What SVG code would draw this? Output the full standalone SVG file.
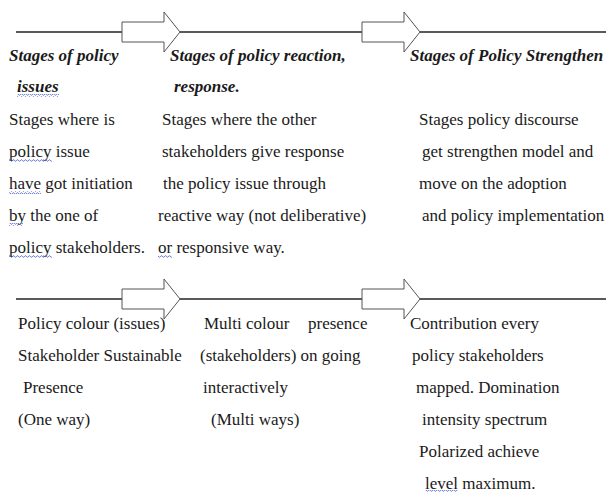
<svg xmlns="http://www.w3.org/2000/svg" width="606" height="492" viewBox="0 0 606 492">
<style>
.t{font-size:17px;fill:#1a1a1a}
.h{font-weight:bold;font-style:italic}
.ln{stroke:#222;stroke-width:1.3;fill:none}
.ar{stroke:#555;stroke-width:1;fill:#fff}
.wv{fill:url(#wavy)}
</style>
<defs>
<pattern id="wavy" width="4" height="3" patternUnits="userSpaceOnUse">
<path d="M0 2.2 L1 0.8 L2 0.8 L3 2.2 L4 2.2" fill="none" stroke="#5b6fd6" stroke-width="0.8"/>
</pattern>
<path id="arrow" d="M0 -10 H42 V-20 L58 0 L42 20 V10 H0 Z"/>
</defs>
<g id="connectors">
<line class="ln" x1="16" y1="32" x2="606" y2="32"/>
<line class="ln" x1="16" y1="299" x2="606" y2="299"/>
<use href="#arrow" class="ar" x="122" y="32"/>
<use href="#arrow" class="ar" x="362" y="32"/>
<use href="#arrow" class="ar" x="122" y="299"/>
<use href="#arrow" class="ar" x="362" y="299"/>
</g>
<g class="t" font-family="'Liberation Serif', 'DejaVu Serif', 'Times New Roman', serif">
<g id="stage-issues">
<text class="h" x="9" y="61">Stages of policy</text>
<text class="h" x="17" y="92">issues</text>
<rect class="wv" x="17" y="94" width="42" height="3"/>
<text x="9" y="125">Stages where is</text>
<text x="9" y="157">policy issue</text>
<rect class="wv" x="9" y="159" width="43" height="3"/>
<text x="9" y="189">have got initiation</text>
<rect class="wv" x="9" y="191" width="32" height="3"/>
<text x="9" y="221">by the one of</text>
<rect class="wv" x="9" y="223" width="14" height="3"/>
<text x="9" y="253">policy stakeholders.</text>
<rect class="wv" x="9" y="255" width="43" height="3"/>
</g>
<g id="stage-reaction">
<text class="h" x="170" y="61">Stages of policy reaction,</text>
<text class="h" x="174" y="92">response.</text>
<text x="162" y="125">Stages where the other</text>
<text x="162" y="157">stakeholders give response</text>
<text x="163" y="189">the policy issue through</text>
<text x="158" y="221">reactive way (not deliberative)</text>
<text x="158" y="253">or responsive way.</text>
<rect class="wv" x="158" y="255" width="14" height="3"/>
</g>
<g id="stage-strengthen">
<text class="h" x="410" y="61">Stages of Policy Strengthen</text>
<text x="419" y="125">Stages policy discourse</text>
<text x="422" y="157">get strengthen model and</text>
<text x="419" y="189">move on the adoption</text>
<text x="422" y="221">and policy implementation</text>
</g>
<g id="presence-one">
<text x="18" y="329">Policy colour (issues)</text>
<text x="18" y="361">Stakeholder Sustainable</text>
<text x="23" y="393">Presence</text>
<text x="18" y="425">(One way)</text>
</g>
<g id="presence-multi">
<text x="204" y="329">Multi colour</text>
<text x="308" y="329">presence</text>
<text x="200" y="361">(stakeholders) on going</text>
<text x="203" y="393">interactively</text>
<text x="211" y="425">(Multi ways)</text>
</g>
<g id="contribution">
<text x="410" y="329">Contribution every</text>
<text x="412" y="361">policy stakeholders</text>
<text x="416" y="393">mapped. Domination</text>
<text x="422" y="425">intensity spectrum</text>
<text x="419" y="457">Polarized achieve</text>
<text x="425" y="489">level maximum.</text>
<rect class="wv" x="425" y="490" width="33" height="2"/>
</g>
</g>
</svg>
